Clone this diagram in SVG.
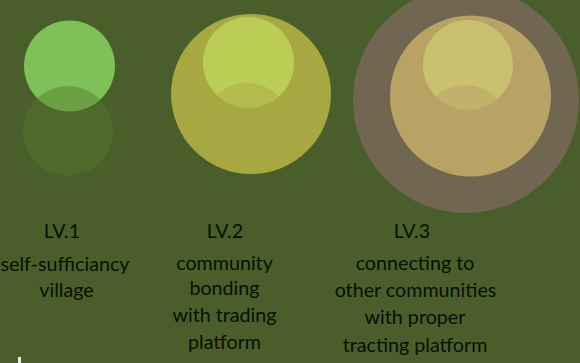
<svg xmlns="http://www.w3.org/2000/svg" width="580" height="363" viewBox="0 0 580 363">
<style>
text{font-family:Lato,"Open Sans",sans-serif;font-size:19.7px;fill:#0a0e05;text-anchor:middle}
</style>
<rect width="580" height="363" fill="#4a5e2b"/>
<g id="lv1">
<circle cx="69.5" cy="66" r="45.5" fill="#80c058"/>
<circle cx="68" cy="131" r="45" fill="#537b2b" fill-opacity="0.45"/>
<text x="62" y="238">LV.1</text>
<text x="65" y="271">self-sufficiancy</text>
<text x="66.5" y="296.5">village</text>
</g>
<g id="lv2">
<circle cx="251" cy="94" r="80" fill="#a8a843"/>
<circle cx="248.5" cy="62.5" r="45.5" fill="#bccd55"/>
<circle cx="247" cy="128" r="45" fill="#a9a845" fill-opacity="0.45"/>
<text x="225" y="238">LV.2</text>
<text x="224.5" y="270">community</text>
<text x="224.5" y="295">bonding</text>
<text x="224.5" y="322">with trading</text>
<text x="224.5" y="349">platform</text>
</g>
<g id="lv3">
<circle cx="466" cy="100" r="113" fill="#716652"/>
<circle cx="470.5" cy="96" r="80.5" fill="#b8a365"/>
<circle cx="468" cy="65" r="45" fill="#c9c070"/>
<circle cx="465" cy="130" r="45" fill="#b8a265" fill-opacity="0.45"/>
<text x="412" y="238">LV.3</text>
<text x="415" y="269.5">connecting to</text>
<text x="415.5" y="296.5">other communities</text>
<text x="415" y="324">with proper</text>
<text x="415" y="351.5">tracting platform</text>
</g>
<rect x="18" y="357" width="3" height="6" fill="#e8ece0"/>
</svg>
